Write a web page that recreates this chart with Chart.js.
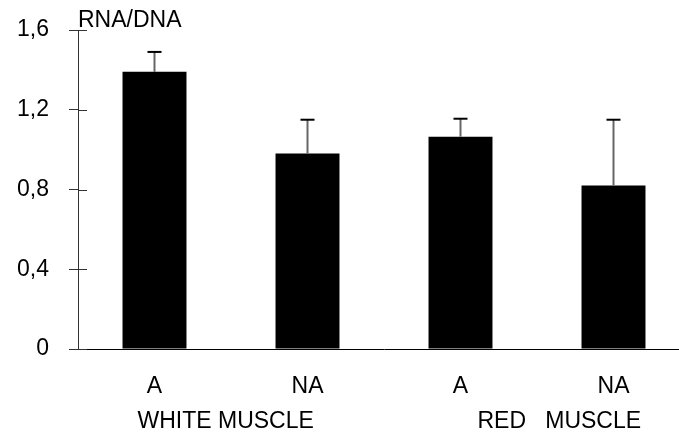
<!DOCTYPE html>
<html>
<head>
<meta charset="utf-8">
<script src="https://cdn.jsdelivr.net/npm/chart.js@4"></script>
<style>
  html, body { margin: 0; padding: 0; background: #fff; overflow: hidden; }
  #wrap { width: 679px; height: 438px; overflow: hidden; }
</style>
</head>
<body>
<div id="wrap"><canvas id="myChart" width="690" height="438"></canvas></div>
<script>
// data
const categories = ['A', 'NA', 'A', 'NA']
const ratioMeans = [1.39, 0.98, 1.065, 0.82]
const ratioErrors = [0.10, 0.17, 0.09, 0.33]
const yTicks = [0, 0.4, 0.8, 1.2, 1.6]
const groupLabels = ['WHITE MUSCLE', 'RED   MUSCLE']
const axisTitle = 'RNA/DNA'

const font = 'Liberation Sans, Arial, sans-serif'
const fontSize = 23

// error bars, tick crossings and the text round the axes
const extrasPlugin = {
  id: 'extras',
  afterDatasetsDraw(chart) {
    let ctx = chart.ctx
    let y = chart.scales.y
    let x = chart.scales.x
    let meta = chart.getDatasetMeta(0)

    ctx.save()
    meta.data.forEach((bar, i) => {
      let top = y.getPixelForValue(ratioMeans[i])
      let errTop = y.getPixelForValue(ratioMeans[i] + ratioErrors[i])
      ctx.strokeStyle = '#666'
      ctx.lineWidth = 2
      ctx.beginPath()
      ctx.moveTo(bar.x, top)
      ctx.lineTo(bar.x, errTop)
      ctx.stroke()
      ctx.strokeStyle = '#000'
      ctx.beginPath()
      ctx.moveTo(bar.x - 7, errTop)
      ctx.lineTo(bar.x + 7, errTop)
      ctx.stroke()
    })

    // tick marks cross the axis
    ctx.strokeStyle = '#333'
    ctx.lineWidth = 1
    yTicks.forEach(v => {
      let py = Math.round(y.getPixelForValue(v)) + 0.5
      ctx.beginPath()
      ctx.moveTo(y.right, py)
      ctx.lineTo(y.right + 9, py)
      ctx.stroke()
    })

    ctx.fillStyle = '#000'
    ctx.font = fontSize + 'px ' + font
    ctx.textBaseline = 'middle'
    ctx.textAlign = 'left'
    ctx.fillText(axisTitle, y.right, y.top - 9)

    // group labels under each pair of bars
    let c0 = x.getPixelForValue(0)
    let c2 = x.getPixelForValue(2)
    ctx.fillText(groupLabels[0], c0 - 17, 422)
    ctx.fillText(groupLabels[1], c2 + 17, 422)
    ctx.restore()
  }
}

let ctx = document.getElementById('myChart').getContext('2d')
let myChart = new Chart(ctx, {
  type: 'bar',
  data: {
    labels: categories,
    datasets: [{
      data: ratioMeans,
      backgroundColor: '#000',
      borderWidth: 0,
      categoryPercentage: 1,
      barPercentage: 0.418
    }]
  },
  options: {
    responsive: false,
    animation: false,
    layout: { padding: { top: 30, left: 0, right: 0, bottom: 0 } },
    plugins: { legend: { display: false }, tooltip: { enabled: false } },
    scales: {
      x: {
        grid: { display: false, drawTicks: false },
        border: { color: '#000', width: 1 },
        ticks: { color: '#000', font: { family: font, size: fontSize }, padding: 24 },
        afterFit(scale) { scale.height = 89 }
      },
      y: {
        min: 0,
        max: 1.6,
        afterBuildTicks(scale) { scale.ticks = yTicks.map(v => ({ value: v })) },
        grid: { drawOnChartArea: false, color: '#333', tickLength: 9 },
        border: { color: '#333', width: 1 },
        ticks: {
          color: '#000',
          padding: 20,
          font: { family: font, size: fontSize },
          callback: v => String(v).replace('.', ',')
        },
        afterFit(scale) {
          scale.width = 78
          scale.paddingTop = 0
          scale.paddingBottom = 0
        }
      }
    }
  },
  plugins: [extrasPlugin]
})
</script>
</body>
</html>
